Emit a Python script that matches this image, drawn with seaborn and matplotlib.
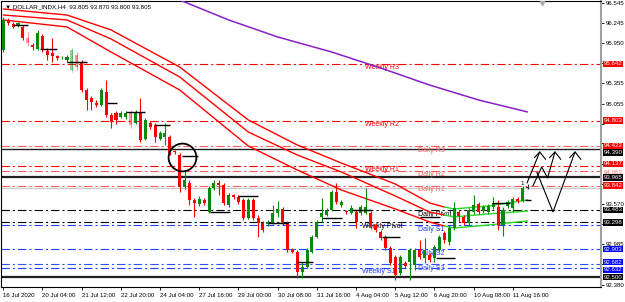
import matplotlib
matplotlib.use("Agg")
import matplotlib.pyplot as plt
import matplotlib.transforms as mtransforms
import pandas as pd
import seaborn as sns

# ---------------- data ----------------
opens = [95.846, 96.275, 96.231, 96.201, 96.187, 96.024, 95.920, 95.861, 96.053, 95.831,
         95.802, 95.757, 95.721, 95.699, 95.551, 95.772, 95.669, 95.256, 95.138, 95.064,
         95.034, 95.226, 94.886, 94.916, 94.857, 94.857, 94.916, 94.769, 94.931, 94.532,
         94.769, 94.739, 94.532, 94.561, 94.561, 94.354, 94.295, 93.822, 93.882, 93.631,
         93.572, 93.631, 93.453, 93.808, 93.882, 93.852, 93.557, 93.704, 93.675, 93.631,
         93.365, 93.631, 93.365, 93.291, 93.276, 93.291, 93.439, 93.498, 93.291, 92.907,
         92.862, 92.567, 92.641, 92.862, 93.084, 93.380, 93.409, 93.483, 93.749, 93.557,
         93.468, 93.439, 93.453, 93.439, 93.439, 93.439, 93.261, 93.158, 93.084, 92.922,
         92.789, 92.553, 92.700, 92.715, 92.671, 92.892, 92.774, 92.819, 92.774, 92.892,
         93.143, 93.011, 93.217, 93.453, 93.380, 93.291, 93.453, 93.572, 93.468, 93.453,
         93.527, 93.527, 93.261, 93.542, 93.513, 93.646, 93.616, 93.805]
highs = [96.334, 96.319, 96.260, 96.260, 96.216, 96.112, 95.950, 96.142, 96.083, 95.876,
         96.024, 95.772, 95.757, 95.772, 95.876, 95.816, 95.699, 95.285, 95.167, 95.108,
         95.285, 95.403, 94.916, 94.945, 94.945, 94.945, 94.960, 94.960, 95.138, 94.842,
         94.798, 94.769, 94.650, 94.769, 94.591, 94.369, 94.325, 94.074, 93.926, 93.660,
         93.690, 93.660, 93.837, 93.926, 93.926, 93.882, 93.734, 93.719, 93.704, 93.660,
         93.660, 93.660, 93.409, 93.321, 93.335, 93.557, 93.616, 93.527, 93.321, 92.922,
         92.892, 92.715, 92.922, 93.114, 93.335, 93.660, 93.513, 93.778, 93.882, 93.631,
         93.483, 93.557, 93.483, 93.557, 93.808, 93.468, 93.291, 93.188, 93.114, 92.951,
         92.819, 92.819, 92.730, 92.922, 92.922, 93.040, 93.070, 92.848, 92.966, 93.114,
         93.173, 93.261, 93.601, 93.483, 93.409, 93.513, 93.704, 93.601, 93.557, 93.572,
         93.675, 93.631, 93.527, 93.631, 93.675, 93.675, 93.837, 93.870]
lows = [95.816, 96.216, 96.172, 96.187, 95.994, 95.905, 95.846, 95.846, 95.816, 95.699,
        95.669, 95.699, 95.713, 95.669, 95.521, 95.551, 95.226, 94.960, 94.960, 95.005,
        95.019, 94.857, 94.694, 94.754, 94.842, 94.828, 94.694, 94.754, 94.487, 94.517,
        94.680, 94.487, 94.517, 94.443, 94.295, 94.310, 93.748, 93.793, 93.557, 93.380,
        93.542, 93.557, 93.439, 93.778, 93.704, 93.557, 93.527, 93.645, 93.572, 93.335,
        93.350, 93.335, 93.084, 93.158, 93.247, 93.276, 93.380, 93.261, 92.862, 92.848,
        92.478, 92.478, 92.626, 92.848, 93.070, 93.306, 93.394, 93.468, 93.572, 93.527,
        93.424, 93.424, 93.217, 93.409, 93.424, 93.203, 93.158, 93.040, 92.892, 92.671,
        92.449, 92.523, 92.626, 92.449, 92.597, 92.759, 92.700, 92.715, 92.715, 92.862,
        92.996, 92.966, 93.188, 93.306, 93.261, 93.261, 93.424, 93.424, 93.439, 93.424,
        93.498, 93.188, 93.099, 93.513, 93.453, 93.587, 93.601, 93.800]
closes = [96.290, 96.246, 96.187, 96.238, 96.024, 95.950, 95.891, 96.098, 95.846, 95.772,
          95.757, 95.728, 95.735, 95.743, 95.846, 95.595, 95.256, 95.108, 95.078, 95.034,
          95.256, 94.886, 94.783, 94.813, 94.916, 94.916, 94.739, 94.916, 94.517, 94.813,
          94.709, 94.561, 94.620, 94.620, 94.325, 94.339, 93.822, 93.926, 93.631, 93.587,
          93.646, 93.587, 93.808, 93.882, 93.852, 93.587, 93.704, 93.675, 93.601, 93.365,
          93.631, 93.365, 93.291, 93.188, 93.298, 93.439, 93.498, 93.291, 92.892, 92.862,
          92.567, 92.641, 92.892, 93.084, 93.306, 93.439, 93.483, 93.749, 93.601, 93.601,
          93.446, 93.513, 93.306, 93.527, 93.527, 93.232, 93.188, 93.070, 92.922, 92.700,
          92.523, 92.789, 92.656, 92.892, 92.892, 92.789, 92.892, 92.745, 92.937, 93.084,
          93.040, 93.217, 93.513, 93.394, 93.291, 93.483, 93.557, 93.453, 93.527, 93.542,
          93.587, 93.261, 93.483, 93.601, 93.646, 93.616, 93.805, 93.805]
faded_bars = [5, 14, 15, 26]

date_tick_bars = [0, 8, 16, 24, 32, 40, 48, 56, 64, 72, 80, 88, 96, 104]
date_labels = ["16 Jul 2020", "20 Jul 04:00", "21 Jul 12:00", "22 Jul 20:00", "24 Jul 04:00",
               "27 Jul 16:00", "29 Jul 00:00", "30 Jul 08:00", "31 Jul 16:00", "4 Aug 04:00",
               "5 Aug 12:00", "6 Aug 20:00", "10 Aug 08:00", "11 Aug 16:00"]

price_ticks = [96.545, 96.245, 95.950, 95.650, 95.355, 95.055, 94.760, 94.465, 94.165,
               93.870, 93.570, 93.280, 92.985, 92.685, 92.380]
# tick labels hidden behind the coloured price boxes
hidden_ticks = [95.650, 94.760, 94.465, 94.165, 93.870, 93.280, 92.685]

# moving-average envelope (three lines), falling part (red) and rising part (green)
ma_red_x = [0, 13, 22, 36, 50, 60, 69, 80, 87, 90]
ma_upper_red = [96.452, 96.363, 96.142, 95.595, 94.813, 94.443, 94.177, 93.867, 93.587, 93.527]
ma_mid_red = [96.363, 96.290, 96.009, 95.448, 94.635, 94.295, 94.044, 93.690, 93.453, 93.409]
ma_lower_red = [96.290, 96.187, 95.816, 95.256, 94.428, 94.074, 93.778, 93.498, 93.306, 93.247]
ma_green_x = [90, 92, 99, 107]
ma_upper_green = [93.527, 93.498, 93.542, 93.631]
ma_mid_green = [93.409, 93.380, 93.424, 93.468]
ma_lower_green = [93.247, 93.217, 93.261, 93.321]

slow_ma_x = [36, 46, 56, 67, 77, 87, 97, 107]
slow_ma_y = [96.585, 96.290, 96.039, 95.817, 95.581, 95.329, 95.108, 94.931]

# pivot levels: price, text, colour
level_prices = [95.642, 94.803, 94.422, 94.137, 94.063, 93.842, 93.483, 93.298, 93.255, 92.903, 92.682, 92.632]
level_names = ["Weekly R3", "Weekly R2", "Daily R3", "Weekly R1", "Daily R2", "Daily R1",
               "Daily Pivot", "Weekly Pivot", "Daily S1", "Daily S2", "Daily S3", "Weekly S1"]
level_colors = ["#FF0000", "#FF0000", "#FF5A5A", "#FF0000", "#FF5A5A", "#FF5A5A",
                "#000000", "#000000", "#2040FF", "#2040FF", "#3050FF", "#2040FF"]
level_text_x = [73.8, 73.8, 84.6, 73.8, 84.6, 84.6, 84.6, 73.2, 84.6, 84.6, 84.6, 73.2]

solid_prices = [94.390, 93.965, 92.500]
solid_widths = [1.0, 1.6, 1.6]
bid_price = 93.805

# price boxes on the right axis: value, colour, drawn position (stacked as in the picture)
box_values = [95.642, 94.803, 94.390, 94.422, 94.063, 94.137, 93.965, 93.842, 93.483,
              93.298, 92.903, 92.682, 92.632, 92.500]
box_colors = ["#FF0000", "#FF0000", "#000000", "#FF0000", "#FFFFFF", "#FF0000", "#000000",
              "#FF0000", "#000000", "#000000", "#0000FF", "#0000FF", "#0000FF", "#000000"]
box_text_colors = ["white", "white", "white", "white", "#FF7070", "white", "white",
                   "white", "white", "white", "white", "white", "white", "white"]
box_draw_at = [95.642, 94.803, 94.330, 94.428, 94.040, 94.165, 93.965, 93.842, 93.483,
               93.298, 92.903, 92.712, 92.600, 92.490]

# daily marker segments: start bar, end bar, price
seg_start = [2.0, 7.5, 13.0, 21.2, 25.0, 31.0, 36.5, 42.2, 47.9, 54.0, 59.9, 65.0, 71.2, 77.3, 85.0, 88.3, 99.7, 106.5]
seg_end = [5.0, 11.0, 17.1, 23.2, 28.9, 34.0, 39.7, 46.3, 52.0, 58.1, 63.2, 69.1, 75.2, 81.0, 89.1, 92.2, 103.4, 107.7]
seg_price = [96.216, 95.861, 95.669, 95.064, 94.931, 94.739, 94.281, 93.453, 93.690, 93.291,
             92.715, 93.365, 93.483, 93.084, 93.380, 92.774, 93.587, 93.631]

# hand drawn scenario arrows
sketch_a_x = [106.9, 109.5]; sketch_a_y = [93.882, 94.340]
sketch_b_x = [108.1, 109.9, 111.1, 112.6]; sketch_b_y = [93.838, 94.118, 93.956, 94.340]
sketch_c_x = [108.9, 112.2, 116.7]; sketch_c_y = [94.044, 93.454, 94.340]
head_tips = [(109.5, 94.340), (112.6, 94.340), (116.7, 94.340)]
circle_center = (36.5, 94.266)

# ---------------- drawing ----------------
sns.set_theme(style="white")
plt.rcParams["font.family"] = ["Liberation Sans", "DejaVu Sans"]
plt.rcParams["lines.scale_dashes"] = False

fig = plt.figure(figsize=(6.25, 3.02), dpi=100)
fig.patch.set_facecolor("white")
ax = fig.add_axes([1 / 625, 15 / 302, 600 / 625, 286 / 302])
ax.set_facecolor("white")
ax.set_xlim(-0.47, 122.0)
ax.set_ylim(92.345, 96.57)

dashdot = (0, (6, 2.2, 1.5, 2.2))

# horizontal levels
for p, c in zip(level_prices, level_colors):
    ax.axhline(p, color=c, lw=0.8, ls=dashdot, zorder=1)
for p, w in zip(solid_prices, solid_widths):
    ax.axhline(p, color="#202020", lw=w, zorder=1)
ax.axhline(bid_price, color="#C8C8C8", lw=0.8, zorder=1)

for p, name, c, x in zip(level_prices, level_names, level_colors, level_text_x):
    ax.text(x, p - 0.01, name, color=c, fontsize=5, ha="left", va="top", zorder=2)

# moving averages via seaborn
for ys in (ma_upper_red, ma_mid_red, ma_lower_red):
    sns.lineplot(x=ma_red_x, y=ys, ax=ax, color="#FF0000", lw=1.0, sort=False, zorder=3)
for ys in (ma_upper_green, ma_mid_green, ma_lower_green):
    sns.lineplot(x=ma_green_x, y=ys, ax=ax, color="#22DD22", lw=1.0, sort=False, zorder=3)
sns.lineplot(x=slow_ma_x, y=slow_ma_y, ax=ax, color="#8A1FC8", lw=1.1, sort=False, zorder=3)

# candles
df = pd.DataFrame({"i": list(range(len(opens))), "o": opens, "h": highs, "l": lows, "c": closes})
for _, r in df.iterrows():
    i = int(r.i)
    if r.c > r.o:
        col = "#0A8A0A"
    elif r.c < r.o:
        col = "#FF0000"
    else:
        col = "#303030"
    alpha = 0.4 if i in faded_bars else 1.0
    ax.vlines(i, r.l, r.h, color=col, lw=0.8, alpha=alpha, zorder=4)
    lo = min(r.o, r.c)
    hgt = max(abs(r.c - r.o), 0.012)
    ax.bar(i, hgt, bottom=lo, width=0.62, color=col, alpha=alpha, lw=0, zorder=5)

# daily marker segments
ax.hlines(seg_price, seg_start, seg_end, color="#000000", lw=1.0, zorder=6)

# sketch drawings
for xs, ys in ((sketch_a_x, sketch_a_y), (sketch_b_x, sketch_b_y), (sketch_c_x, sketch_c_y)):
    ax.plot(xs, ys, color="#000000", lw=0.8, zorder=7)
for tx, ty in head_tips:
    ax.plot([tx - 1.1, tx, tx + 1.2], [ty - 0.085, ty, ty - 0.11], color="#000000", lw=0.8, zorder=7)
ax.text(106.2, 93.87, "1", fontsize=4.5, color="#000000", ha="right", va="center")
ax.plot([circle_center[0]], [circle_center[1]], marker="o", ms=20, mfc="none", mec="#000000",
        mew=1.3, zorder=8)
ax.plot([110], [96.54], marker="v", ms=3, color="#A8A8A8", zorder=8)

# title
ax.text(0.006, 0.98, "\u25bc DOLLAR_INDX,H4  93.805 93.870 93.800 93.805", transform=ax.transAxes,
        fontsize=4.5, color="#000000", ha="left", va="center", zorder=9)

# axes styling
ax.yaxis.tick_right()
ax.set_yticks(price_ticks)
ax.set_yticklabels(["" if v in hidden_ticks else f"{v:.3f}" for v in price_ticks])
ax.tick_params(axis="y", which="both", right=True, left=False, length=2, width=0.6, pad=1.5,
               labelsize=4.4, colors="#000000")
ax.set_xticks(date_tick_bars)
ax.set_xticklabels(date_labels)
ax.tick_params(axis="x", bottom=True, length=2.5, width=0.6, pad=1.5, labelsize=4.4, colors="#000000")
for lbl in ax.get_xticklabels():
    lbl.set_ha("left")
ax.set_xlabel("")
ax.set_ylabel("")
for s in ("left", "top", "bottom"):
    ax.spines[s].set_color("#000000")
    ax.spines[s].set_linewidth(0.8)
ax.spines["right"].set_color("#A0A0A0")
ax.spines["right"].set_linewidth(1.5)
ax.grid(False)

trans = mtransforms.blended_transform_factory(ax.transAxes, ax.transData)
for v, c, tc, yv in zip(box_values, box_colors, box_text_colors, box_draw_at):
    ax.text(1.004, yv, f"{v:.3f}", transform=trans, fontsize=4.4, color=tc, ha="left",
            va="center", clip_on=False, zorder=10,
            bbox=dict(boxstyle="square,pad=0.12", fc=c, ec="none"))

fig.savefig("out.png", dpi=100)
